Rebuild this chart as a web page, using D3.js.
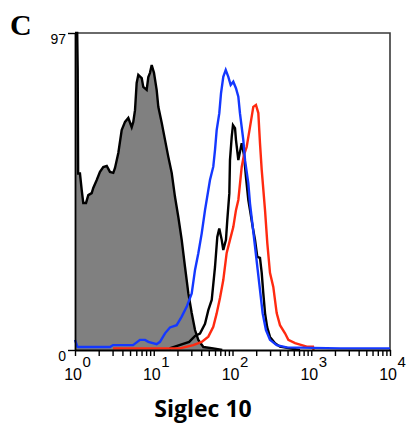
<!DOCTYPE html>
<html>
<head>
<meta charset="utf-8">
<script src="https://cdn.jsdelivr.net/npm/d3@7"></script>
<style>
  html, body { margin: 0; padding: 0; background: #fff; }
  svg { display: block; }
</style>
</head>
<body>
<svg id="chart" width="409" height="425"></svg>
<script>
// ---- Data (fluorescence given as log10 of intensity, counts as events) ----
const xDecades = [0, 1, 2, 3, 4];
const yTickValues = [0, 97];
const panelLabel = "C";
const xTitle = "Siglec 10";

// Isotype control (grey filled)
const isoLogFL = [0, 0.028, 0.034, 0.04, 0.063, 0.085, 0.105, 0.14, 0.169, 0.212, 0.232, 0.276, 0.317, 0.359, 0.403, 0.444, 0.486, 0.508, 0.55, 0.593, 0.635, 0.677, 0.72, 0.74, 0.762, 0.783, 0.804, 0.847, 0.867, 0.91, 0.931, 0.952, 0.974, 1.003, 1.037, 1.058, 1.101, 1.143, 1.185, 1.228, 1.27, 1.312, 1.355, 1.397, 1.439, 1.482, 1.524, 1.566, 1.63, 1.756, 1.87];
const isoCount = [97, 97, 86, 54, 54, 49, 45, 45, 47.4, 48, 49.6, 52, 54.5, 56, 56.3, 54.5, 54.2, 55.7, 60.3, 67.3, 69.8, 71, 68.2, 69.8, 73.4, 81.7, 84.2, 83.2, 80.5, 79.6, 83.5, 84.8, 87.2, 84.8, 79.6, 74.4, 69.5, 64.3, 59.1, 54.2, 46.8, 40.7, 33.7, 25.4, 17.4, 11.3, 6.1, 3.1, 0.9, 0.5, 0];

// Blue sample
const blueLogFL = [0, 0.03, 0.038, 0.444, 0.483, 0.737, 0.825, 0.889, 0.931, 1.037, 1.079, 1.143, 1.206, 1.291, 1.355, 1.418, 1.482, 1.524, 1.566, 1.609, 1.651, 1.714, 1.756, 1.778, 1.799, 1.832, 1.854, 1.883, 1.914, 1.947, 1.977, 2.01, 2.044, 2.074, 2.095, 2.137, 2.159, 2.201, 2.222, 2.257, 2.286, 2.315, 2.349, 2.383, 2.425, 2.476, 2.561, 2.688, 3.365, 4];
const blueCount = [3.1, 1.0, 0.9, 0.9, 1.5, 1.5, 3.1, 3.1, 2.5, 1.8, 2.5, 5.1, 6.9, 7.6, 10.2, 13.2, 17.3, 24.5, 29.6, 35.7, 42.8, 52, 56.1, 61.2, 67.3, 72.4, 78.5, 83.6, 85.7, 83.6, 81.1, 82.1, 80.1, 77.5, 72.4, 64.3, 58.1, 51, 44.9, 37.7, 31.6, 25.5, 18.4, 11.2, 6.1, 3.1, 1.5, 0.8, 0.5, 0.5];

// Black sample
const blackLogFL = [1.2, 1.45, 1.524, 1.587, 1.651, 1.693, 1.736, 1.778, 1.807, 1.832, 1.863, 1.883, 1.917, 1.934, 1.96, 1.968, 1.99, 2.006, 2.032, 2.044, 2.074, 2.117, 2.146, 2.171, 2.201, 2.222, 2.257, 2.286, 2.315, 2.349, 2.371, 2.391, 2.413, 2.44, 2.476, 2.54, 2.603, 2.73, 2.857];
const blackCount = [0.5, 2.5, 4.3, 5.0, 8.0, 12.2, 15.3, 25.4, 34.6, 37.2, 33.7, 30.6, 33.7, 39.8, 48, 58.1, 65.2, 68.8, 67.9, 64.3, 58.1, 63.3, 59.7, 52.9, 45.9, 42.8, 37.6, 33.7, 28.5, 28.2, 23.6, 17.4, 11.3, 7.0, 4.0, 2.1, 1.0, 0.5, 0];

// Red sample
const redLogFL = [0.483, 1.333, 1.502, 1.609, 1.693, 1.756, 1.799, 1.841, 1.883, 1.926, 1.968, 2.01, 2.044, 2.074, 2.117, 2.146, 2.18, 2.222, 2.264, 2.298, 2.328, 2.349, 2.371, 2.413, 2.442, 2.476, 2.518, 2.561, 2.603, 2.667, 2.709, 2.794, 2.879, 2.943, 3.022, 3.03];
const redCount = [0.5, 0.5, 1.5, 2.5, 4.1, 7.1, 11.2, 15.9, 21.4, 29.7, 33.7, 37.6, 42.8, 45.9, 56, 59.7, 62.1, 68.2, 74.4, 75, 72.5, 63.3, 55.1, 42.8, 32.7, 23.6, 19.3, 11.3, 7.6, 5.1, 3.1, 2.1, 1.5, 1.0, 1.0, 0];

// ---- Layout ----
const svg = d3.select("#chart");
const margin = { left: 75, right: 19, top: 33, bottom: 75 };
const W = 409, H = 425;

const x = d3.scaleLog().domain([1, 10000]).range([margin.left, W - margin.right]);
const y = d3.scaleLinear().domain([0, 97]).range([H - margin.bottom, margin.top]);

const toPts = (lg, ct) => lg.map((v, i) => ({ fl: Math.pow(10, v), c: ct[i] }));

const line = d3.line().x(d => x(d.fl)).y(d => y(d.c));
const area = d3.area().x(d => x(d.fl)).y0(y(0)).y1(d => y(d.c));

// frame (top & right)
svg.append("path")
  .attr("d", `M${x(1)},${y(97)} H${x(10000)} V${y(0)}`)
  .attr("fill", "none").attr("stroke", "#3a3a3a").attr("stroke-width", 1.6);

// isotype filled
const iso = toPts(isoLogFL, isoCount);
svg.append("path").datum(iso).attr("d", area).attr("fill", "#808080");
svg.append("path").datum(iso).attr("d", line)
  .attr("fill", "none").attr("stroke", "#000").attr("stroke-width", 2.4).attr("stroke-linejoin", "miter");

const series = [
  { lg: blackLogFL, ct: blackCount, color: "#000000" },
  { lg: redLogFL, ct: redCount, color: "#ff2a10" },
  { lg: blueLogFL, ct: blueCount, color: "#1438ff" }
];
series.forEach(s => {
  svg.append("path").datum(toPts(s.lg, s.ct)).attr("d", line)
    .attr("fill", "none").attr("stroke", s.color).attr("stroke-width", 2.4);
});

// x axis
const minorTicks = [];
for (let d = 0; d < 4; d++) for (let m = 1; m < 10; m++) minorTicks.push(m * Math.pow(10, d));
minorTicks.push(10000);
const xAxis = svg.append("g").attr("transform", `translate(0,${y(0)})`)
  .call(d3.axisBottom(x).tickValues(minorTicks).tickSize(6).tickSizeOuter(0).tickFormat(() => ""));
xAxis.select(".domain").attr("stroke", "#000").attr("stroke-width", 1.8);
xAxis.selectAll(".tick line").attr("stroke", "#000").attr("stroke-width", 1.4);

const labels = svg.append("g").attr("font-family", "Liberation Sans, Arial, sans-serif").attr("fill", "#000");
xDecades.forEach(dcd => {
  const px = x(Math.pow(10, dcd));
  labels.append("text").attr("x", px + 7).attr("y", y(0) + 30)
    .attr("text-anchor", "end").attr("font-size", 16).text("10");
  labels.append("text").attr("x", px + 7.5).attr("y", y(0) + 17)
    .attr("text-anchor", "start").attr("font-size", 15).text(String(dcd));
});

// y axis
const yAxis = svg.append("g").attr("transform", `translate(${x(1)},0)`)
  .call(d3.axisLeft(y).tickValues(yTickValues).tickSize(7).tickSizeOuter(0).tickPadding(2));
yAxis.select(".domain").attr("stroke", "#000").attr("stroke-width", 1.8);
yAxis.selectAll(".tick line").attr("stroke", "#000").attr("stroke-width", 1.4);
yAxis.selectAll(".tick text").attr("font-family", "Liberation Sans, Arial, sans-serif")
  .attr("font-size", 14).attr("fill", "#000").attr("dy", "0.72em");

// panel label
svg.append("text").attr("x", 10).attr("y", 35)
  .attr("font-family", "Liberation Serif, Times New Roman, serif")
  .attr("font-weight", "bold").attr("font-size", 30).text(panelLabel);

// axis title
svg.append("text").attr("x", 203).attr("y", 417).attr("text-anchor", "middle")
  .attr("font-family", "Open Sans, sans-serif").attr("font-weight", "bold")
  .attr("font-size", 23).text(xTitle);
</script>
</body>
</html>
